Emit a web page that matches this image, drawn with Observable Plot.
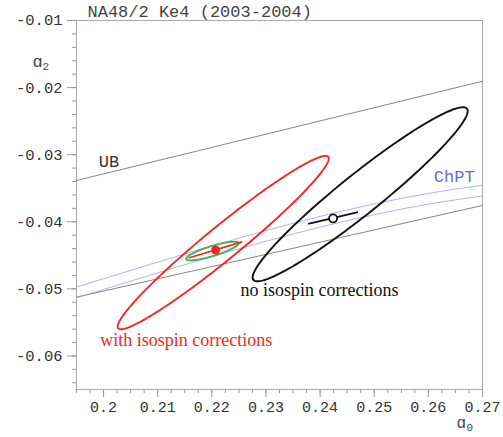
<!DOCTYPE html>
<html><head><meta charset="utf-8">
<script src="https://cdn.jsdelivr.net/npm/d3@7"></script>
<script src="https://cdn.jsdelivr.net/npm/@observablehq/plot@0.6"></script>
<style>html,body{margin:0;padding:0;background:#fff}</style>
</head><body><div id="chart"></div>
<script>
// axis ticks
const xTicks = [0.2, 0.21, 0.22, 0.23, 0.24, 0.25, 0.26, 0.27];
const yTicks = [-0.06, -0.05, -0.04, -0.03, -0.02, -0.01];
const xMinorTicks = d3.range(0, 31).map(i => 0.195 + i * 0.0025);
const yMinorTicks = d3.range(0, 28).map(i => -0.064 + i * 0.002);

// error ellipses (centre, sigmas, correlation)
const ellipseNames = ["with isospin", "no isospin", "with isospin stat"];
const ellipseA0 = [0.2221, 0.2474, 0.2201];
const ellipseA2 = [-0.0431, -0.0359, -0.04436];
const ellipseSigmaA0 = [0.01949, 0.01986, 0.00486];
const ellipseSigmaA2 = [0.01292, 0.01297, 0.001394];
const ellipseRho = [0.969, 0.956, 0.83];
const ellipseColors = ["#f02828", "#111111", "#4db04a"];

// ChPT band (upper / lower edge)
const chptA0 = [0.195, 0.20, 0.21, 0.22, 0.23, 0.24, 0.25, 0.26, 0.27];
const chptUpper = [-0.04973, -0.04849, -0.04601, -0.0436, -0.04131, -0.0392, -0.03734, -0.03577, -0.03456];
const chptLower = [-0.05133, -0.05009, -0.04761, -0.0452, -0.04291, -0.0408, -0.03894, -0.03737, -0.03616];

// universal band edges
const ubA0 = [0.195, 0.27];
const ubUpper = [-0.03385, -0.01905];
const ubLower = [-0.05124, -0.03757];

// one-parameter fits (points + error segments along ChPT)
const fitA0 = [0.2207, 0.2424];
const fitA2 = [-0.0442, -0.0395];
const segA0Start = [0.2157, 0.2378];
const segA2Start = [-0.0454, -0.0403];
const segA0End = [0.2256, 0.2470];
const segA2End = [-0.0430, -0.03857];

// labels
const labelText = ["UB", "ChPT"];
const labelA0 = [0.1991, 0.2610];
const labelA2 = [-0.03191, -0.03407];
const noteText = ["no isospin corrections", "with isospin corrections"];
const noteA0 = [0.2253, 0.1994];
const noteA2 = [-0.05099, -0.05859];

const ellipseData = ellipseNames.flatMap((name, i) =>
  d3.range(0, 241).map(k => {
    const t = 2 * Math.PI * k / 240;
    const r = ellipseRho[i];
    return {
      name,
      a0: ellipseA0[i] + ellipseSigmaA0[i] * Math.cos(t),
      a2: ellipseA2[i] + ellipseSigmaA2[i] * (r * Math.cos(t) + Math.sqrt(1 - r * r) * Math.sin(t))
    };
  })
);
const chptData = chptA0.flatMap((a0, i) => [
  {edge: "upper", a0, a2: chptUpper[i]},
  {edge: "lower", a0, a2: chptLower[i]}
]);
const ubData = ubA0.flatMap((a0, i) => [
  {edge: "upper", a0, a2: ubUpper[i]},
  {edge: "lower", a0, a2: ubLower[i]}
]);
const segData = fitA0.map((a0, i) => ({x1: segA0Start[i], y1: segA2Start[i], x2: segA0End[i], y2: segA2End[i]}));
const mono = "'Liberation Mono', 'Courier New', monospace";
const serif = "'Liberation Serif', 'Times New Roman', serif";

const chart = Plot.plot({
  width: 503,
  height: 437,
  marginLeft: 76,
  marginRight: 21,
  marginTop: 20,
  marginBottom: 48,
  style: {fontFamily: mono, background: "#fff"},
  x: {domain: [0.195, 0.27]},
  y: {domain: [-0.065, -0.01]},
  marks: [
    Plot.frame({stroke: "#aaa"}),
    Plot.axisX(xMinorTicks, {tickSize: 4, stroke: "#999", tickFormat: () => "", label: null}),
    Plot.axisY(yMinorTicks, {tickSize: 4, stroke: "#999", tickFormat: () => "", label: null}),
    Plot.axisX(xTicks, {tickSize: 8, tickPadding: 4, stroke: "#999", fill: "#333", fontSize: 15, fontFamily: mono, tickFormat: d => String(+d.toFixed(2)), label: null}),
    Plot.axisY(yTicks, {tickSize: 9, tickPadding: 5, stroke: "#999", fill: "#333", fontSize: 15.5, fontFamily: mono, tickFormat: d => d.toFixed(2), label: null}),
    Plot.line(ubData, {x: "a0", y: "a2", z: "edge", stroke: "#777", strokeWidth: 0.9}),
    Plot.line(chptData, {x: "a0", y: "a2", z: "edge", stroke: "#a0a0e2", strokeWidth: 0.8, curve: "monotone-x"}),
    Plot.line(ellipseData, {x: "a0", y: "a2", z: "name", stroke: d => ellipseColors[ellipseNames.indexOf(d.name)], strokeWidth: 1.9}),
    Plot.link(segData, {x1: "x1", y1: "y1", x2: "x2", y2: "y2", stroke: ["#f02828", "#111"], strokeWidth: 1.8}),
    Plot.dot([0], {x: [fitA0[0]], y: [fitA2[0]], r: 4.5, fill: "#f02828", stroke: "none"}),
    Plot.dot([0], {x: [fitA0[1]], y: [fitA2[1]], r: 4, fill: "#fff", stroke: "#111", strokeWidth: 1.8}),
    Plot.text(labelText, {x: labelA0, y: labelA2, text: d => d, textAnchor: "start", lineAnchor: "bottom", fontSize: 17, fontFamily: mono, fill: ["#333", "#6b6bc6"]}),
    Plot.text(noteText, {x: noteA0, y: noteA2, text: d => d, textAnchor: "start", lineAnchor: "bottom", fontSize: 18, fontFamily: serif, fill: ["#111", "#f02828"]}),
    Plot.text(["NA48/2 Ke4 (2003-2004)"], {frameAnchor: "top-left", dx: 11, dy: -4, textAnchor: "start", lineAnchor: "bottom", fontSize: 17, fontFamily: mono, fill: "#444"}),
    Plot.text(["ɑ"], {frameAnchor: "top-left", dx: -44, dy: 46, textAnchor: "start", lineAnchor: "bottom", fontSize: 17, fontFamily: mono, fill: "#444"}),
    Plot.text(["2"], {frameAnchor: "top-left", dx: -34, dy: 49, textAnchor: "start", lineAnchor: "bottom", fontSize: 11, fontFamily: mono, fill: "#444"}),
    Plot.text(["ɑ"], {frameAnchor: "bottom-right", dx: -26, dy: 38, textAnchor: "start", lineAnchor: "bottom", fontSize: 16, fontFamily: mono, fill: "#444"}),
    Plot.text(["0"], {frameAnchor: "bottom-right", dx: -16, dy: 41, textAnchor: "start", lineAnchor: "bottom", fontSize: 11, fontFamily: mono, fill: "#444"})
  ]
});
document.getElementById("chart").appendChild(chart);
</script>
</body></html>
